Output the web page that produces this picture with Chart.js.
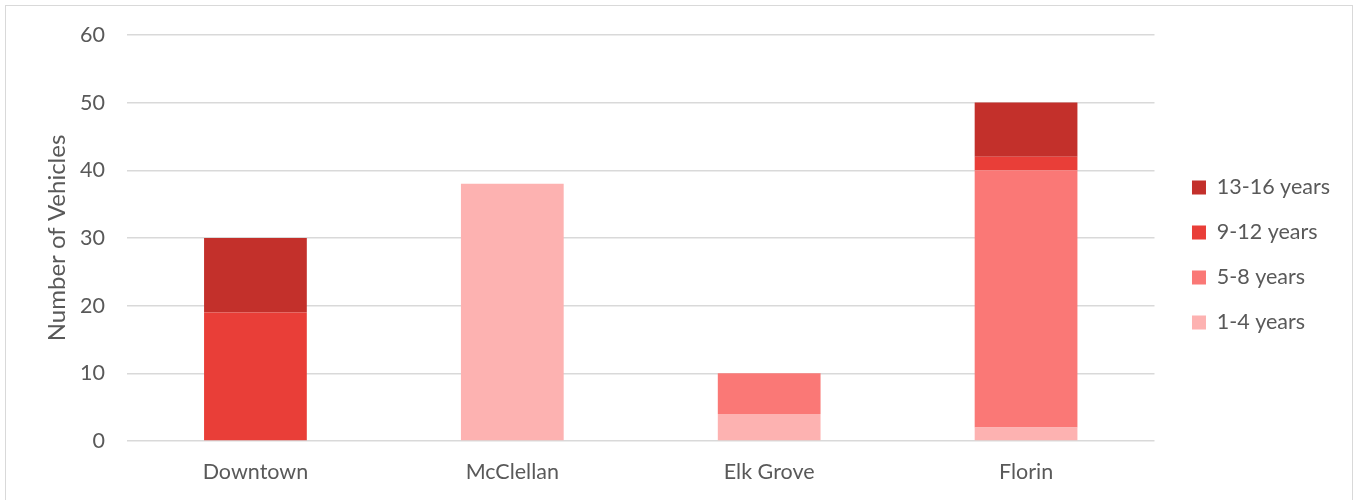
<!DOCTYPE html>
<html>
<head>
<meta charset="utf-8">
<script src="https://cdn.jsdelivr.net/npm/chart.js@4.4.1/dist/chart.umd.min.js"></script>
<style>
  html, body { margin: 0; padding: 0; background: #fff; }
  #wrap { position: relative; width: 1355px; height: 500px; overflow: hidden; }
  #frame { position: absolute; left: 5px; top: 5px; width: 1348px; height: 520px;
           border: 1.5px solid #d9d9d9; box-sizing: border-box; pointer-events: none; }
  canvas { position: absolute; left: 0; top: 0; }
</style>
</head>
<body>
<div id="wrap">
  <canvas id="chart" width="1355" height="500"></canvas>
  <div id="frame"></div>
</div>
<script>
// Fleet locations and vehicle counts by age group
const locations = ['Downtown', 'McClellan', 'Elk Grove', 'Florin'];
const age1to4   = [0, 38, 4, 2];
const age5to8   = [0, 0, 6, 38];
const age9to12  = [19, 0, 0, 2];
const age13to16 = [11, 0, 0, 8];
const yTicks    = [0, 10, 20, 30, 40, 50, 60];

const FONT = 'Lato, "Open Sans", sans-serif';
const TEXT = '#595959';
const TICK_SIZE = 21.5;

const ds = (label, data, color) => ({
  label, data, backgroundColor: color, borderWidth: 0,
  categoryPercentage: 1.0, barPercentage: 0.4
});

// Nudges the legend block after layout so it sits nearer the plot
const legendNudge = {
  id: 'legendNudge',
  afterLayout(chart, args, opts) {
    const lg = chart.legend;
    if (!lg) return;
    lg.left += opts.dx; lg.right += opts.dx;
    lg.top += opts.dy; lg.bottom += opts.dy;
  }
};

new Chart(document.getElementById('chart'), {
  type: 'bar',
  data: {
    labels: locations,
    datasets: [
      ds('1-4 years', age1to4, '#FDB2B1'),
      ds('5-8 years', age5to8, '#FA7876'),
      ds('9-12 years', age9to12, '#E93E38'),
      ds('13-16 years', age13to16, '#C3302B')
    ]
  },
  plugins: [legendNudge],
  options: {
    responsive: false,
    animation: false,
    layout: { padding: { top: 34, left: 43, right: 29, bottom: 0 } },
    plugins: {
      tooltip: { enabled: false },
      legendNudge: { dx: 14, dy: -12 },
      legend: {
        position: 'right',
        reverse: true,
        labels: {
          boxWidth: 14, boxHeight: 14, padding: 23.5,
          color: TEXT, font: { family: FONT, size: TICK_SIZE }
        }
      }
    },
    scales: {
      x: {
        stacked: true,
        grid: { display: false, drawTicks: false, tickLength: 0 },
        border: { display: false },
        ticks: { color: TEXT, font: { family: FONT, size: TICK_SIZE }, padding: 18 },
        afterFit: s => { s.height = 59; }
      },
      y: {
        stacked: true,
        min: 0, max: 60,
        afterBuildTicks: s => { s.ticks = yTicks.map(v => ({ value: v })); },
        grid: { color: '#d9d9d9', lineWidth: 1.5, drawTicks: false },
        border: { display: false },
        ticks: { color: TEXT, font: { family: FONT, size: TICK_SIZE }, padding: 22 },
        title: { display: true, text: 'Number of Vehicles', color: TEXT,
                 font: { family: FONT, size: 24 }, padding: 0 },
        afterFit: s => { s.width = 84; }
      }
    }
  }
});
</script>
</body>
</html>
